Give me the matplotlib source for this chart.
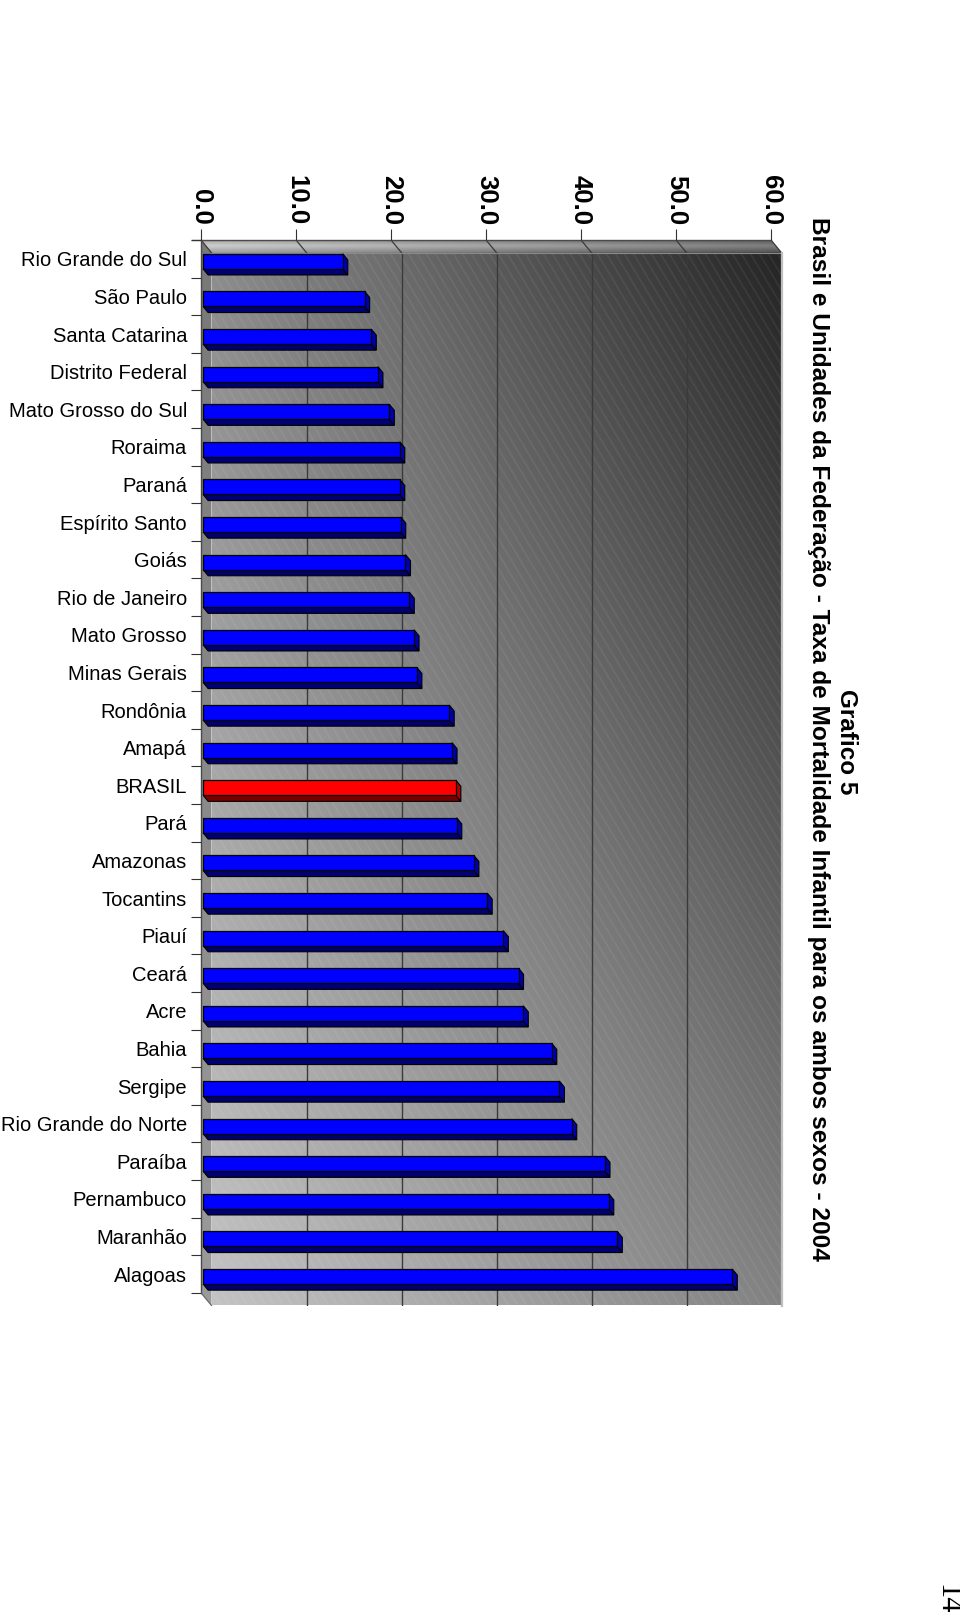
import matplotlib
matplotlib.use('Agg')
import matplotlib.pyplot as plt
import numpy as np
from matplotlib.patches import Polygon
from matplotlib.collections import LineCollection

plt.rcParams['font.family'] = ['Liberation Sans', 'DejaVu Sans']

# ---------------- data ----------------
categories = ["Rio Grande do Sul", "São Paulo", "Santa Catarina", "Distrito Federal",
              "Mato Grosso do Sul", "Roraima", "Paraná", "Espírito Santo", "Goiás",
              "Rio de Janeiro", "Mato Grosso", "Minas Gerais", "Rondônia", "Amapá",
              "BRASIL", "Pará", "Amazonas", "Tocantins", "Piauí", "Ceará", "Acre",
              "Bahia", "Sergipe", "Rio Grande do Norte", "Paraíba", "Pernambuco",
              "Maranhão", "Alagoas"]
values = [14.7, 17.0, 17.7, 18.4, 19.6, 20.7, 20.7, 20.8, 21.3, 21.7, 22.2, 22.5,
          25.9, 26.2, 26.6, 26.7, 28.5, 29.9, 31.6, 33.2, 33.7, 36.7, 37.5, 38.8,
          42.3, 42.7, 43.6, 55.7]
highlight = "BRASIL"
xticks = [0, 10, 20, 30, 40, 50, 60]
title_line1 = "Grafico 5"
title_line2 = "Brasil e Unidades da Federação - Taxa de Mortalidade Infantil para os ambos sexos - 2004"
page_number = "14"

# ---------------- layout ----------------
W, H = 960, 1617
fig = plt.figure(figsize=(W / 100, H / 100), dpi=100)
fig.patch.set_facecolor('white')

x0_px, x60_px = 201.0, 771.0
ppu = (x60_px - x0_px) / 60.0
dx_px, dy_px = 10.5, 12.7
top_px, step_px = 240.0, 37.6
n = len(categories)
dx = dx_px / ppu
dy = dy_px / step_px
bottom_px = top_px + n * step_px + dy_px
right_px = x60_px + dx_px

ax = fig.add_axes([x0_px / W, 1 - bottom_px / H, (right_px - x0_px) / W, (bottom_px - top_px) / H])
xmax = xticks[-1]
ax.set_xlim(0, xmax + dx)
ax.set_ylim(n - 0.5 + dy, -0.5)
for s in ax.spines.values():
    s.set_visible(False)
ax.set_facecolor('none')

# back wall gradient
u = np.linspace(0, 1, 300)[None, :]
t = np.linspace(1, 0, 300)[:, None]
g = (195 - 65 * u - 55 * t - 38 * u * t) / 255.0
img = np.dstack([g, g, g])
ax.imshow(img, extent=(dx, xmax + dx, n - 0.5 + dy, -0.5 + dy), aspect='auto',
          interpolation='bilinear', zorder=0)
wall = Polygon([(dx, -0.5 + dy), (xmax + dx, -0.5 + dy), (xmax + dx, n - 0.5 + dy), (dx, n - 0.5 + dy)],
               closed=True, facecolor='none', edgecolor='none', zorder=0.5)
ax.add_patch(wall)

# subtle diagonal texture stripes on wall
wall_h_px = n * step_px
segs = []
for xs in np.arange(-0.6 * wall_h_px, (xmax * ppu) + 10, 9.0):
    segs.append([((xs) / ppu + dx, -0.5 + dy),
                 ((xs + 0.6 * wall_h_px) / ppu + dx, n - 0.5 + dy)])
lc = LineCollection(segs, colors=[(1, 1, 1, 0.06)], linewidths=1.3, zorder=0.5)
ax.add_collection(lc)
lc.set_clip_path(wall)

# top strip (depth band)
top_poly = Polygon([(0, -0.5), (xmax, -0.5), (xmax + dx, -0.5 + dy), (dx, -0.5 + dy)],
                   closed=True, facecolor='none', edgecolor='none')
ax.add_patch(top_poly)
gx = (185 - 80 * np.linspace(0, 1, 300))[None, :]
gy = np.array([-12, 0, 12, 20, 12, 0, -12, -20])[:, None]
gt = np.clip((gx + gy) / 255.0, 0, 1)
imt = np.dstack([gt] * 3)
im2 = ax.imshow(imt, extent=(0, xmax + dx, -0.5 + dy, -0.5), aspect='auto',
                interpolation='bilinear', zorder=0.6)
im2.set_clip_path(top_poly)

# left floor strip
floor_poly = Polygon([(0, -0.5), (dx, -0.5 + dy), (dx, n - 0.5 + dy), (0, n - 0.5)],
                     closed=True, facecolor='none', edgecolor='none')
ax.add_patch(floor_poly)
gf = (120 + 35 * np.linspace(0, 1, 300)) / 255.0
imf = np.dstack([np.tile(gf[:, None], (1, 10))] * 3)
im3 = ax.imshow(imf, extent=(0, dx, n - 0.5 + dy, -0.5), aspect='auto',
                interpolation='bilinear', zorder=0.6)
im3.set_clip_path(floor_poly)

# gridlines on back wall and top strip
for v in xticks[1:-1]:
    ax.plot([v + dx, v + dx], [-0.5 + dy, n - 0.5 + dy], color='#3a3a3a', lw=1.0, zorder=1)
for v in xticks:
    ax.plot([v, v + dx], [-0.5, -0.5 + dy], color='#3a3a3a', lw=0.9, zorder=1)
# edges
ax.plot([-0.9, xmax], [-0.5, -0.5], color='#4a4a4a', lw=1.0, zorder=1, clip_on=False)
ax.plot([0, 0], [-0.5, n - 0.5], color='#4a4a4a', lw=1.0, zorder=1, clip_on=False)
ax.plot([0, dx], [n - 0.5, n - 0.5 + dy], color='#6a6a6a', lw=0.9, zorder=1)
ax.plot([dx, xmax + dx], [-0.5 + dy, -0.5 + dy], color='#8a8a8a', lw=0.8, zorder=1)
ax.plot([xmax + dx, xmax + dx], [-0.5 + dy, n - 0.5 + dy], color='#bdbdbd', lw=1.6,
        zorder=1, clip_on=False)

# ---------------- bars (3D look) ----------------
f0, fd, h = 0.2, 0.48, 0.40
idx = np.arange(n)
front_cols = ['#ff0000' if c == highlight else '#0000ff' for c in categories]
bottom_cols = ['#780000' if c == highlight else '#000070' for c in categories]
end_cols = ['#b00000' if c == highlight else '#0000a8' for c in categories]

ax.barh(idx + f0 * dy, values, left=f0 * dx, height=h, color=front_cols,
        edgecolor='black', linewidth=0.9, zorder=4)
for i, v in enumerate(values):
    yc = i + f0 * dy
    yt, yb = yc - h / 2, yc + h / 2
    xa, xb = f0 * dx, f0 * dx + v
    bot = Polygon([(xa, yb), (xb, yb), (xb + fd * dx, yb + fd * dy), (xa + fd * dx, yb + fd * dy)],
                  closed=True, facecolor=bottom_cols[i], edgecolor='black', lw=0.8, zorder=3)
    end = Polygon([(xb, yt), (xb + fd * dx, yt + fd * dy), (xb + fd * dx, yb + fd * dy), (xb, yb)],
                  closed=True, facecolor=end_cols[i], edgecolor='black', lw=0.8, zorder=3)
    ax.add_patch(bot)
    ax.add_patch(end)

# ---------------- axes ticks ----------------
ax.xaxis.tick_top()
ax.set_xticks(xticks)
ax.set_xticklabels([f"{v:.1f}" for v in xticks], rotation=270, fontsize=18.5, fontweight='bold')
ax.tick_params(axis='x', which='major', direction='out', length=7.9, width=0.8,
               color='#333333', pad=3)
ax.set_yticks(idx)
ax.set_yticklabels(categories, fontsize=14.5)
ax.set_yticks(np.arange(-0.5, n, 1.0), minor=True)
ax.tick_params(axis='y', which='major', length=0, pad=10)
ax.tick_params(axis='y', which='minor', direction='out', length=7.2, width=0.8, color='#333333')
ax.tick_params(axis='x', which='minor', length=0)

# ---------------- titles ----------------
t1 = fig.text(847 / W, 1 - 742 / H, title_line1, rotation=270, ha='center', va='center',
              fontweight='bold', fontsize=17.5)
t2 = fig.text(818 / W, 1 - 738.5 / H, title_line2, rotation=270, ha='center', va='center',
              fontweight='bold', fontsize=15)
fig.canvas.draw()
r = fig.canvas.get_renderer()
for txt, target in ((t1, 105.0), (t2, 1049.0)):
    ext = txt.get_window_extent(r)
    txt.set_fontsize(txt.get_fontsize() * target / ext.height)

fig.text(947 / W, 1 - 1599 / H, page_number, rotation=270, ha='center', va='center',
         family=['Liberation Serif', 'DejaVu Serif'], fontsize=22)

fig.savefig('out.png', dpi=100, facecolor='white')
